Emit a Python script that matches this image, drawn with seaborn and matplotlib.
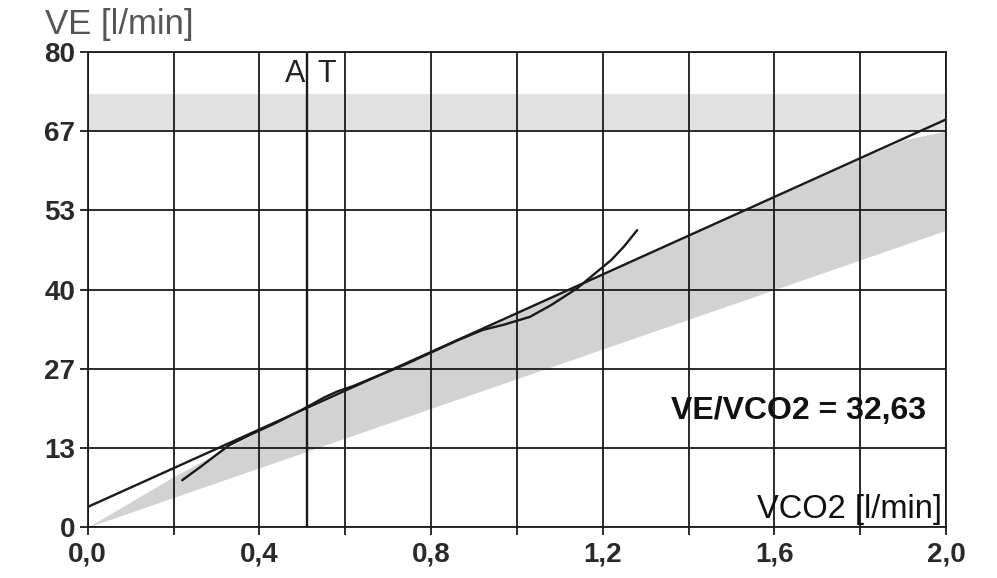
import numpy as np
import pandas as pd
import matplotlib
matplotlib.use("Agg")
import matplotlib.pyplot as plt
from matplotlib.ticker import MultipleLocator, FixedLocator
import seaborn as sns

# Measured VE against VCO2 during the exercise test
vco2 = [0.22, 0.26, 0.30, 0.33, 0.38, 0.44, 0.50, 0.55, 0.58, 0.62, 0.68, 0.74,
        0.80, 0.86, 0.92, 0.97, 1.03, 1.08, 1.14, 1.18, 1.22, 1.25, 1.28]
ve = [7.9, 10.0, 12.2, 13.8, 15.6, 17.6, 19.8, 21.8, 22.8, 23.8, 25.6, 27.4,
      29.4, 31.4, 33.2, 34.1, 35.4, 37.4, 40.2, 42.6, 45.0, 47.3, 50.0]

# Regression of VE on VCO2
slope = 32.63
intercept = 3.4
fit_x = [0.0, 2.0]

# Reference (normal) range of the VE/VCO2 relation
band_x = [0.0, 0.2, 0.4, 0.8, 1.2, 1.6, 1.9, 2.0]
band_upper = [0.0, 8.5, 16.2, 29.5, 42.6, 55.6, 65.2, 66.7]
band_lower = [0.0, 5.0, 10.0, 20.0, 30.0, 40.0, 47.5, 50.0]

# Reference range of maximal ventilation
ve_max_range = [66.67, 73.0]

# Anaerobic threshold
at_vco2 = 0.51

# Axis ticks
y_ticks = [0, 13.33, 26.67, 40, 53.33, 66.67, 80]
y_labels = ["0", "13", "27", "40", "53", "67", "80"]
x_ticks = [0.0, 0.4, 0.8, 1.2, 1.6, 2.0]
x_labels = ["0,0", "0,4", "0,8", "1,2", "1,6", "2,0"]

sns.set_theme(style="white")
plt.rcParams["font.family"] = ["Liberation Sans", "DejaVu Sans"]

fig = plt.figure(figsize=(9.97, 5.78), dpi=100)
ax = fig.add_axes([0.088, 0.088, 0.861, 0.822])

ink = "#1a1a1a"

# Shaded reference areas
ax.fill_between(band_x, band_lower, band_upper, color="#d2d2d2", lw=0, zorder=1)
ax.fill_between(fit_x, [ve_max_range[0]] * 2, [ve_max_range[1]] * 2,
                color="#e2e2e2", lw=0, zorder=1)

# Regression line and measured curve
fit_df = pd.DataFrame({"VCO2": fit_x,
                       "VE": [intercept + slope * x for x in fit_x]})
sns.lineplot(data=fit_df, x="VCO2", y="VE", ax=ax, color=ink, lw=1.7,
             zorder=4)
curve_df = pd.DataFrame({"VCO2": vco2, "VE": ve})
sns.lineplot(data=curve_df, x="VCO2", y="VE", ax=ax, color=ink, lw=1.7,
             sort=False, estimator=None, zorder=4)

# Anaerobic threshold marker
ax.axvline(at_vco2, color=ink, lw=1.7, zorder=3)
ax.text(at_vco2 - 0.003, 76.3, "A", ha="right", va="center", fontsize=22,
        color="#222222")
ax.text(at_vco2 + 0.025, 76.3, "T", ha="left", va="center", fontsize=22,
        color="#222222")

# Axes, ticks and grid
ax.set_xlim(0, 2.0)
ax.set_ylim(0, 80)
ax.xaxis.set_major_locator(FixedLocator(x_ticks))
ax.xaxis.set_minor_locator(MultipleLocator(0.2))
ax.set_xticklabels(x_labels)
ax.yaxis.set_major_locator(FixedLocator(y_ticks))
ax.set_yticklabels(y_labels)
ax.grid(True, which="both", color=ink, lw=1.3, zorder=2)
ax.set_axisbelow(False)
for side in ax.spines.values():
    side.set_color(ink)
    side.set_linewidth(1.3)
ax.tick_params(axis="both", which="both", direction="out", length=6,
               width=1.3, color=ink, labelsize=20, labelcolor="#2a2a2a")
ax.tick_params(axis="x", which="both", bottom=True, pad=4)
ax.tick_params(axis="y", which="both", left=True, pad=3)
for lab in ax.get_xticklabels() + ax.get_yticklabels():
    lab.set_fontweight("bold")
ax.set_xlabel("")
ax.set_ylabel("")

ax.text(1.36, 19.5, "VE/VCO2 = 32,63", ha="left", va="center", fontsize=23,
        fontweight="bold", color="#111111", zorder=5)
ax.text(1.99, 2.9, "VCO2 [l/min]", ha="right", va="center", fontsize=23.5,
        color="#111111", zorder=5)
fig.text(0.045, 0.957, "VE [l/min]", ha="left", va="center", fontsize=25,
         color="#555555")

fig.savefig("out.png", dpi=100)
